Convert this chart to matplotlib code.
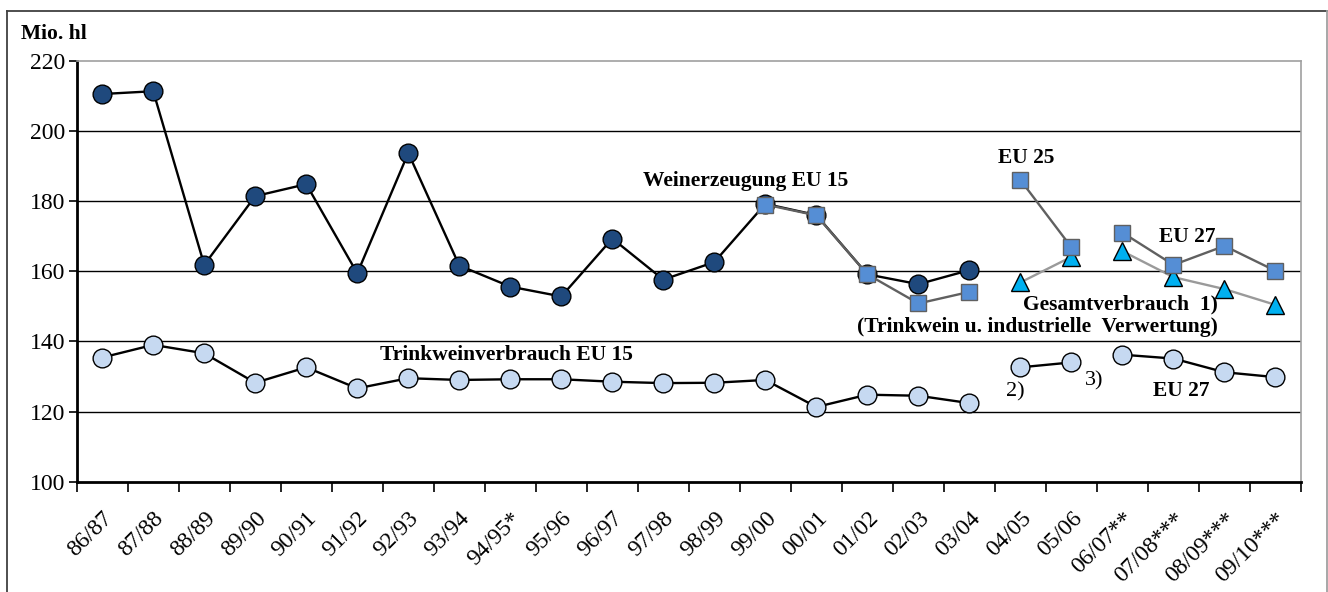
import matplotlib
matplotlib.use("Agg")
import matplotlib.pyplot as plt
from matplotlib.lines import Line2D
import numpy as np

plt.rcParams['font.family'] = ['Liberation Serif', 'DejaVu Serif']

categories = ["86/87", "87/88", "88/89", "89/90", "90/91", "91/92", "92/93", "93/94",
              "94/95*", "95/96", "96/97", "97/98", "98/99", "99/00", "00/01", "01/02",
              "02/03", "03/04", "04/05", "05/06", "06/07**", "07/08***", "08/09***", "09/10***"]

nan = np.nan
# Weinerzeugung EU 15
production = [210.5, 211.3, 161.8, 181.4, 184.8, 159.4, 193.7, 161.6, 155.6, 152.8, 169.3,
              157.6, 162.6, 179.2, 176.0, 159.1, 156.3, 160.3, nan, nan, nan, nan, nan, nan]
# Gesamtverbrauch (squares): EU15 / EU25 / EU27 segments
total_use = [nan]*13 + [179.0, 175.9, 159.1, 150.8, 154.1, nan, nan, nan, nan, nan, nan]
total_use_eu25 = [nan]*18 + [186.0, 166.8, nan, nan, nan, nan]
total_use_eu27 = [nan]*20 + [171.0, 161.8, 167.2, 160.1]
# Triangles
total_use2_a = [nan]*18 + [156.8, 164.1, nan, nan, nan, nan]
total_use2_b = [nan]*20 + [165.7, 158.3, 154.9, 150.4]
# Trinkweinverbrauch (light circles)
drink = [135.4, 139.0, 136.6, 128.2, 132.6, 126.6, 129.5, 129.0, 129.2, 129.2, 128.5,
         128.1, 128.2, 129.0, 121.3, 124.8, 124.5, 122.4, nan, nan, nan, nan, nan, nan]
drink_eu25 = [nan]*18 + [132.6, 134.0, nan, nan, nan, nan]
drink_eu27 = [nan]*20 + [136.2, 135.1, 131.2, 129.8]

yticks = [100, 120, 140, 160, 180, 200, 220]

W, H = 1328, 592
fig = plt.figure(figsize=(W/100, H/100), dpi=100)
ax = fig.add_axes([76.7/W, 1-481.7/H, (1301-76.7)/W, (481.7-60.7)/H])

x = np.arange(len(categories))

for yv in [120, 140, 160, 180, 200]:
    ax.axhline(yv, color='black', lw=1.0, zorder=1)

sq_fill = '#558ED5'
tri_fill = '#00B0F0'
dark_fill = '#1F497D'
light_fill = '#C6D9F1'

ax.plot(x, production, '-o', color='black', lw=1.7, ms=13.5, mfc=dark_fill, mec='black', mew=1.0, zorder=3)
for s in (total_use, total_use_eu25, total_use_eu27):
    ax.plot(x, s, '-s', color='#606060', lw=1.7, ms=11, mfc=sq_fill, mec='#606060', mew=1.0, zorder=5)
for s in (total_use2_a, total_use2_b):
    ax.plot(x, s, '-^', color='#9A9A9A', lw=1.7, ms=13, mfc=tri_fill, mec='black', mew=1.0, zorder=4)
for s in (drink, drink_eu25, drink_eu27):
    ax.plot(x, s, '-o', color='black', lw=1.7, ms=13.5, mfc=light_fill, mec='black', mew=1.0, zorder=3)

ax.set_xlim(-0.5, len(categories)-0.5)
ax.set_ylim(100, 220)
ax.set_yticks(yticks)
ax.set_yticklabels([str(v) for v in yticks], fontsize=17)
ax.set_xticks(x)
ax.set_xticklabels(categories, rotation=45, ha='right', rotation_mode='anchor', fontsize=17)
ax.tick_params(axis='x', length=0, pad=19)
ax.set_xticks(np.arange(-0.5, len(categories)), minor=True)
ax.tick_params(axis='x', which='minor', length=7, width=1.2, direction='out')
ax.tick_params(axis='y', length=6, width=1.2, direction='out', pad=2)

for side in ('top', 'right'):
    ax.spines[side].set_color('#A0A0A0')
    ax.spines[side].set_linewidth(1.2)
for side in ('left', 'bottom'):
    ax.spines[side].set_color('black')
    ax.spines[side].set_linewidth(2.0)

# figure border (top, left dark; right light)
def fline(xs, ys, color):
    fig.add_artist(Line2D([v/W for v in xs], [1-v/H for v in ys], transform=fig.transFigure,
                          color=color, lw=1.3))
fline([7, 1327], [11, 11], '#404040')
fline([7, 7], [11, 592], '#404040')
fline([1327, 1327], [11, 592], '#A0A0A0')

def ftxt(px, py, s, ha='left', bold=True, size=15.5):
    fig.text(px/W, 1-py/H, s, ha=ha, va='center', fontsize=size,
             fontweight='bold' if bold else 'normal')

ftxt(21, 34, "Mio. hl")
ftxt(746, 181, "Weinerzeugung EU 15", ha='center')
ftxt(1026, 158, "EU 25", ha='center')
ftxt(1187, 237, "EU 27", ha='center')
ftxt(1218, 304, "Gesamtverbrauch  1)", ha='right')
ftxt(1218, 327, "(Trinkwein u. industrielle  Verwertung)", ha='right')
ftxt(506, 355, "Trinkweinverbrauch EU 15", ha='center')
ftxt(1015, 392, "2)", ha='center', bold=False, size=16)
ftxt(1094, 381, "3)", ha='center', bold=False, size=16)
ftxt(1181, 391, "EU 27", ha='center')

fig.savefig("out.png", dpi=100)
